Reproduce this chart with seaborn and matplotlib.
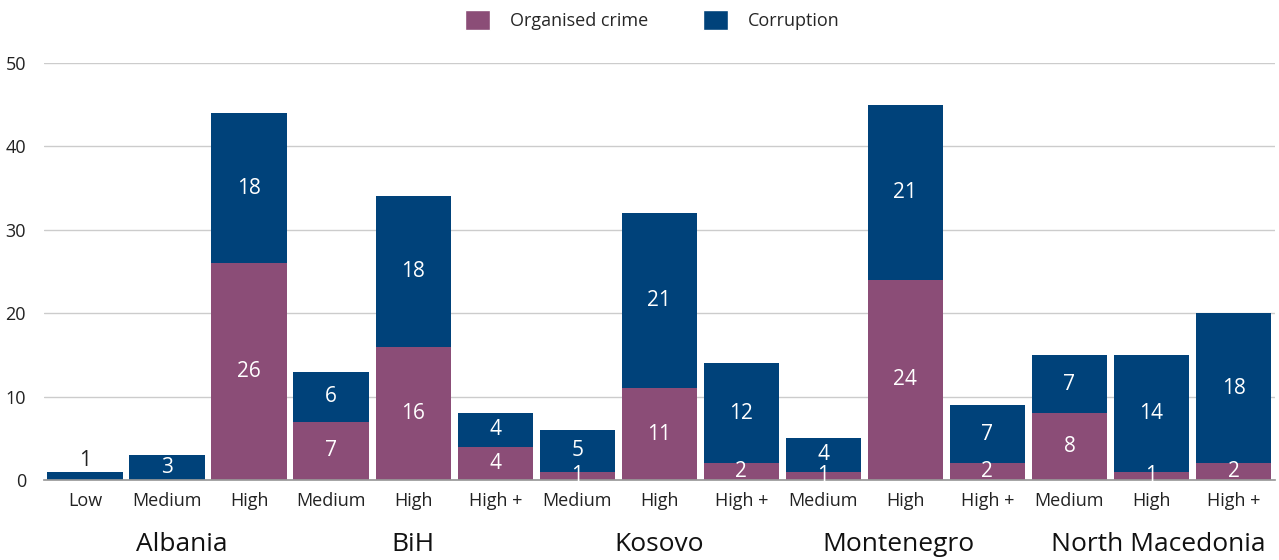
import numpy as np
import pandas as pd
import matplotlib.pyplot as plt
import seaborn as sns
from matplotlib.patches import Patch

#%% Data
countries = ['Albania', 'BiH', 'Kosovo', 'Montenegro', 'North Macedonia']
levels = ['Low', 'Medium', 'High',
          'Medium', 'High', 'High +',
          'Medium', 'High', 'High +',
          'Medium', 'High', 'High +',
          'Medium', 'High', 'High +']
group_sizes = [3, 3, 3, 3, 3]
organised_crime = [0, 0, 26, 7, 16, 4, 1, 11, 2, 1, 24, 2, 8, 1, 2]
corruption = [1, 3, 18, 6, 18, 4, 5, 21, 12, 4, 21, 7, 7, 14, 18]

oc_col = '#8B4D77'
co_col = '#00427A'

df = pd.DataFrame({'pos': range(len(levels)), 'level': levels,
                   'oc': organised_crime, 'co': corruption})
df['total'] = df['oc'] + df['co']

#%% Plot
sns.set_theme(style="white")
plt.rcParams['font.family'] = ['Open Sans', 'DejaVu Sans']
fig = plt.figure(figsize=(12.79, 5.6), dpi=100)
ax = fig.add_axes([0.0345, 0.143, 0.962, 0.7445])

sns.barplot(data=df, x='pos', y='total', color=co_col, saturation=1, width=0.92,
            linewidth=0, ax=ax)
sns.barplot(data=df, x='pos', y='oc', color=oc_col, saturation=1, width=0.92,
            linewidth=0, ax=ax)

for i, (o, c) in enumerate(zip(organised_crime, corruption)):
    if o > 0:
        ax.text(i, o / 2, str(o), ha='center', va='center', color='white', fontsize=15)
    if o == 0 and c < 2:
        ax.text(i, c + 0.05, str(c), ha='center', va='bottom', color='#222222', fontsize=15)
    else:
        ax.text(i, o + c / 2, str(c), ha='center', va='center', color='white', fontsize=15)

ax.set_xlim(-0.5, len(levels) - 0.5)
ax.set_ylim(0, 50)
ax.set_yticks([0, 10, 20, 30, 40, 50])
ax.yaxis.grid(True, color='#cccccc', linewidth=1)
ax.set_axisbelow(True)
for s in ['top', 'right', 'left']:
    ax.spines[s].set_visible(False)
ax.spines['bottom'].set_color('#999999')
ax.tick_params(axis='y', length=0, labelsize=13, pad=13, labelcolor='#222222')
ax.tick_params(axis='x', length=0, labelsize=13, pad=9, labelcolor='#222222')
ax.set_xticks(range(len(levels)))
ax.set_xticklabels(levels)
ax.set_xlabel('')
ax.set_ylabel('')

offsets = [0.18, 0, 0, -0.08, 0.08]
start = 0
for name, n, off in zip(countries, group_sizes, offsets):
    ax.text(start + (n - 1) / 2 + off, -0.125, name, transform=ax.get_xaxis_transform(),
            ha='center', va='top', fontsize=19, color='#111111')
    start += n

handles = [Patch(facecolor=oc_col, label='Organised crime'),
           Patch(facecolor=co_col, label='Corruption')]
fig.legend(handles=handles, loc='upper center', bbox_to_anchor=(0.51, 1.012), ncol=2,
           frameon=False, fontsize=13, handlelength=1.4, handleheight=1.4,
           columnspacing=3.0, handletextpad=1.1)

fig.savefig('out.png', dpi=100)
